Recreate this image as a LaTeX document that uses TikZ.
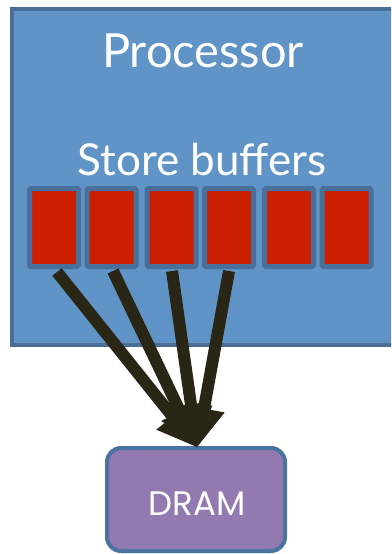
\documentclass[tikz,border=0pt]{standalone}
\usepackage{fontspec}
\setmainfont{Lato}
\newfontfamily\geofont{Poppins}
\usetikzlibrary{arrows.meta}
\definecolor{procfill}{HTML}{6094C6}
\definecolor{procedge}{HTML}{4A6E96}
\definecolor{slotedge}{HTML}{48709B}
\definecolor{bufred}{HTML}{CC1E00}
\definecolor{wire}{HTML}{2A2616}
\definecolor{dramfill}{HTML}{9279B0}
\definecolor{dramedge}{HTML}{4B73A0}
\tikzset{
  procbox/.style={fill=procfill, draw=procedge, line width=4pt},
  whitetext/.style={text=white, inner sep=0pt, anchor=base},
  slot/.style={fill=bufred, draw=slotedge, line width=5pt, rounded corners=1.5pt,
    minimum width=49pt, minimum height=78pt, inner sep=0pt},
  dramnode/.style={fill=dramfill, draw=dramedge, line width=4pt, rounded corners=14pt,
    minimum width=178pt, minimum height=103pt, inner sep=0pt},
  storeline/.style={draw=wire, line width=12pt,
    -{Triangle[length=39pt, width=42pt, line width=0pt, fill=wire]}},
}
\begin{document}
\begin{tikzpicture}[x=1pt, y=-1pt]
  \clip (0,0) rectangle (391,554);
  \fill[white] (0,0) rectangle (391,554);

  % processor body, running off the right edge
  \draw[procbox] (12,9) rectangle (420,345);
  \node[whitetext, font=\fontsize{47}{50}\selectfont] (proc) at (203,67) {Processor};
  \node[whitetext, font=\fontsize{44}{47}\selectfont] (sblabel) at (202,175) {Store buffers};

  % the six store-buffer slots
  \node[slot] (b1) at (54,227.5) {};
  \node[slot] (b2) at (111.5,227.5) {};
  \node[slot] (b3) at (171.5,227.5) {};
  \node[slot] (b4) at (229,227.5) {};
  \node[slot] (b5) at (289,227.5) {};
  \node[slot] (b6) at (346.5,227.5) {};

  % memory
  \node[dramnode] (dram) at (196,499.5) {};
  \node[whitetext, font=\geofont\fontsize{34}{37}\selectfont] (dramtxt) at (197,515) {DRAM};

  % drains from four buffers into DRAM
  \coordinate (tip) at (197,447);
  \draw[storeline] ([xshift=3pt,yshift=-3pt]b1.south) -- (tip);
  \draw[storeline] ([xshift=1.5pt,yshift=-2pt]b2.south) -- (tip);
  \draw[storeline] ([xshift=0.5pt,yshift=-2pt]b3.south) -- (tip);
  \draw[storeline] ([yshift=-2pt]b4.south) -- (tip);
\end{tikzpicture}
\end{document}
